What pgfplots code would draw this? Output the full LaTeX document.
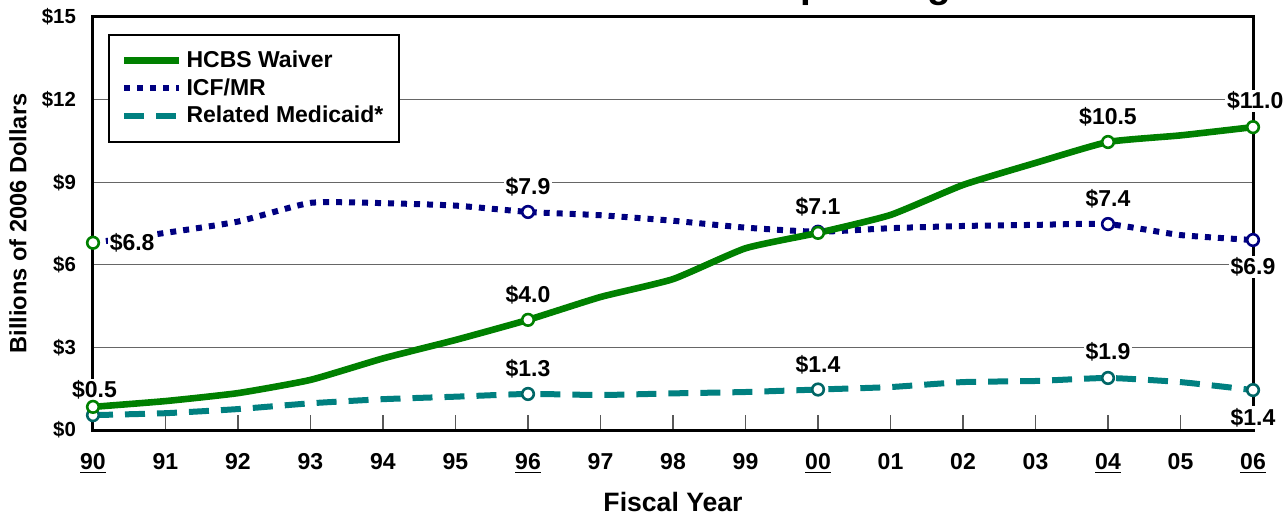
\documentclass[border=0pt]{standalone}
\usepackage{pgfplots}
\pgfplotsset{compat=1.18}
\usepackage{fontspec}
\setmainfont{Liberation Sans}
\definecolor{hcbs}{RGB}{0,128,0}
\definecolor{icf}{RGB}{0,0,128}
\definecolor{rel}{RGB}{0,128,128}
\tikzset{lbl/.style={font=\fontsize{11.5}{12}\selectfont\bfseries, fill=white, inner sep=1pt}}
\begin{document}
\begin{tikzpicture}
\useasboundingbox (-46.5pt,-42pt) rectangle (596pt,215pt);
\node[anchor=base east, font=\fontsize{19.4}{20}\selectfont\bfseries] at (432.5pt,216.25pt) {Medicaid Spending};
\begin{axis}[
  scale only axis, width=580pt, height=206.5pt,
  at={(0pt,0pt)}, anchor=south west,
  xmin=0, xmax=16, ymin=0, ymax=15,
  clip=false,
  xtick={0,1,...,16},
  xticklabels={\underline{90},91,92,93,94,95,\underline{96},97,98,99,\underline{00},01,02,03,\underline{04},05,\underline{06}},
  ytick={0,3,6,9,12,15},
  yticklabels={\$0,\$3,\$6,\$9,\$12,\$15},
  tick pos=left,
  tick align=inside,
  major tick length=7.5pt,
  xtick style={draw=gray!70!black, line width=0.6pt},
  ytick style={draw=none},
  xticklabel style={font=\fontsize{11.5}{12}\selectfont\bfseries, yshift=-8pt},
  yticklabel style={font=\fontsize{10.2}{11}\selectfont\bfseries, xshift=-5pt},
  ymajorgrids,
  grid style={draw=gray!80!black, line width=0.6pt},
  axis line style={line width=1.5pt, black},
  xlabel={Fiscal Year},
  ylabel={Billions of 2006 Dollars},
  every axis x label/.style={at={(axis description cs:0.5,-0.174)}, anchor=center, font=\fontsize{13.3}{14}\selectfont\bfseries},
  every axis y label/.style={at={(axis description cs:-0.0647,0.5)}, rotate=90, anchor=center, font=\fontsize{11.8}{12}\selectfont\bfseries},
  reverse legend,
  legend style={at={(0.0129,0.959)}, anchor=north west, draw=black, line width=1pt,
    font=\fontsize{11.5}{13.5}\selectfont\bfseries, inner xsep=6pt, inner ysep=6pt,
    cells={anchor=west}},
  legend image code/.code={\draw[#1] (0pt,0pt) -- (27.5pt,0pt);},
]
\addplot[rel, line width=3pt, dash pattern=on 10pt off 6pt, smooth, tension=0.3,
  mark=*, mark indices={1,7,11,15,17}, mark size=2.9pt,
  mark options={solid, fill=white, draw=rel!80!black, line width=1.3pt}]
  coordinates {(0,0.54) (1,0.61) (2,0.76) (3,0.97) (4,1.12) (5,1.21) (6,1.31) (7,1.27) (8,1.33) (9,1.38) (10,1.47) (11,1.56) (12,1.74) (13,1.78) (14,1.89) (15,1.74) (16,1.45)};
\addlegendentry{Related Medicaid*}
\addplot[icf, line width=3pt, dash pattern=on 3pt off 3.5pt, smooth, tension=0.3,
  mark=*, mark indices={7,11,15,17}, mark size=2.9pt,
  mark options={solid, fill=white, draw=icf, line width=1.3pt}]
  coordinates {(0,6.8) (1,7.16) (2,7.57) (3,8.25) (4,8.24) (5,8.15) (6,7.92) (7,7.8) (8,7.6) (9,7.35) (10,7.2) (11,7.33) (12,7.41) (13,7.45) (14,7.48) (15,7.08) (16,6.9)};
\addlegendentry{ICF/MR}
\addplot[hcbs, line width=3.3pt, smooth, tension=0.3,
  mark=*, mark indices={1,7,11,15,17}, mark size=2.9pt,
  mark options={solid, fill=white, draw=hcbs, line width=1.3pt}]
  coordinates {(0,0.84) (1,1.05) (2,1.34) (3,1.82) (4,2.6) (5,3.27) (6,4.0) (7,4.83) (8,5.48) (9,6.6) (10,7.16) (11,7.81) (12,8.9) (13,9.7) (14,10.46) (15,10.7) (16,11.0)};
\addlegendentry{HCBS Waiver}
\addplot[forget plot, only marks, mark=*, mark size=2.9pt,
  mark options={solid, fill=white, draw=hcbs, line width=1.3pt}]
  coordinates {(0,6.8)};
\node[lbl] at (axis cs:0.02,1.45) {\$0.5};
\node[lbl] at (axis cs:0.54,6.8) {\$6.8};
\node[lbl] at (axis cs:6,8.83) {\$7.9};
\node[lbl] at (axis cs:6,4.9) {\$4.0};
\node[lbl] at (axis cs:6,2.22) {\$1.3};
\node[lbl] at (axis cs:10,8.1) {\$7.1};
\node[lbl] at (axis cs:10,2.36) {\$1.4};
\node[lbl] at (axis cs:14,11.37) {\$10.5};
\node[lbl] at (axis cs:14,8.39) {\$7.4};
\node[lbl] at (axis cs:14,2.83) {\$1.9};
\node[lbl] at (axis cs:16.03,11.95) {\$11.0};
\node[lbl] at (axis cs:16,5.92) {\$6.9};
\node[lbl] at (axis cs:16,0.44) {\$1.4};
\end{axis}
\end{tikzpicture}
\end{document}
